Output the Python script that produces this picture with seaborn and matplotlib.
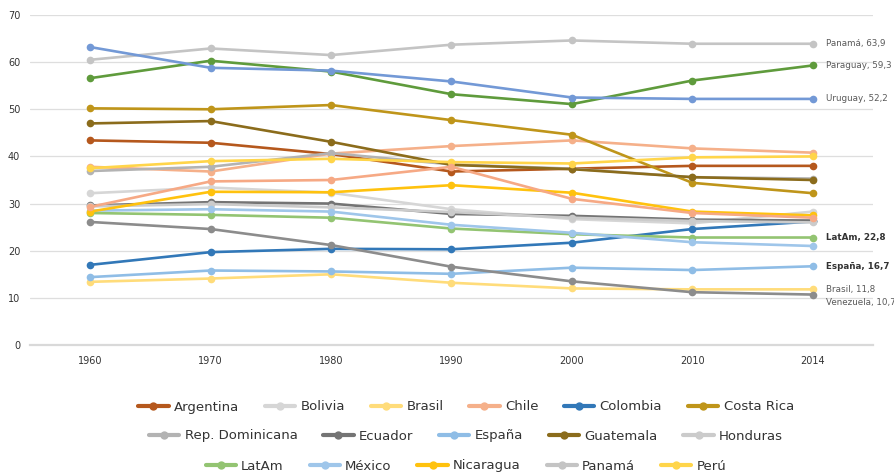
import matplotlib
matplotlib.use("Agg")
import matplotlib.pyplot as plt
from matplotlib.lines import Line2D
import seaborn as sns
import pandas as pd

years = ["1960", "1970", "1980", "1990", "2000", "2010", "2014"]

argentina = [43.4, 42.9, 40.5, 36.8, 37.4, 38.0, 38.0]
bolivia = [32.2, 33.4, 32.3, 28.8, 26.7, 25.8, 28.3]
brasil = [13.4, 14.1, 15.0, 13.2, 12.0, 11.8, 11.8]
chile = [37.8, 36.8, 40.6, 42.2, 43.4, 41.7, 40.8]
colombia = [17.0, 19.7, 20.4, 20.3, 21.7, 24.6, 26.2]
costa_rica = [50.2, 50.0, 50.9, 47.7, 44.6, 34.4, 32.2]
rep_dominicana = [36.9, 37.8, 40.7, 38.3, 37.4, 35.6, 35.3]
ecuador = [29.6, 30.3, 30.0, 27.8, 27.4, 26.6, 26.4]
espana = [14.4, 15.8, 15.6, 15.1, 16.4, 15.9, 16.7]
guatemala = [47.0, 47.5, 43.1, 38.2, 37.3, 35.6, 35.0]
honduras = [29.4, 29.9, 29.2, 28.2, 27.0, 26.3, 26.0]
latam = [28.0, 27.6, 27.0, 24.7, 23.5, 22.8, 22.8]
mexico = [28.5, 28.8, 28.3, 25.5, 23.8, 21.8, 21.0]
nicaragua = [28.3, 32.5, 32.4, 33.9, 32.3, 28.3, 27.5]
panama = [60.5, 62.9, 61.5, 63.7, 64.6, 63.9, 63.9]
peru = [37.5, 39.0, 39.5, 38.8, 38.5, 39.8, 40.0]
el_salvador = [29.3, 34.7, 35.0, 37.8, 31.0, 28.0, 27.0]
paraguay = [56.6, 60.3, 58.0, 53.2, 51.1, 56.1, 59.3]
uruguay = [63.2, 58.8, 58.2, 55.9, 52.5, 52.2, 52.2]
venezuela = [26.1, 24.6, 21.2, 16.6, 13.5, 11.2, 10.7]

series = {
    "Argentina": argentina, "Bolivia": bolivia, "Brasil": brasil, "Chile": chile,
    "Colombia": colombia, "Costa Rica": costa_rica, "Rep. Dominicana": rep_dominicana,
    "Ecuador": ecuador, "España": espana, "Guatemala": guatemala, "Honduras": honduras,
    "LatAm": latam, "México": mexico, "Nicaragua": nicaragua, "Panamá": panama,
    "Perú": peru, "El Salvador": el_salvador, "Paraguay": paraguay,
    "Uruguay": uruguay, "Venezuela": venezuela,
}

colors = {
    "Argentina": "#b5581d", "Bolivia": "#d6d6d6", "Brasil": "#ffdc7a", "Chile": "#f5b08a",
    "Colombia": "#3278b8", "Costa Rica": "#bf951a", "Rep. Dominicana": "#b3b3b3",
    "Ecuador": "#747474", "España": "#8fbde6", "Guatemala": "#8b6c1c", "Honduras": "#cbcbcb",
    "LatAm": "#93c472", "México": "#9fc6ea", "Nicaragua": "#ffc20e", "Panamá": "#c4c4c4",
    "Perú": "#ffd54a", "El Salvador": "#f6a985", "Paraguay": "#5f9b3c",
    "Uruguay": "#7399d6", "Venezuela": "#8c8c8c",
}

# labels at the right end: (name, y-offset in data units, bold)
end_labels = [
    ("Panamá", 0.0, False), ("Paraguay", 0.0, False), ("Uruguay", 0.0, False),
    ("LatAm", 0.0, True), ("España", 0.0, True), ("Brasil", 0.0, False),
    ("Venezuela", -1.6, False),
]

legend_rows = [
    ["Argentina", "Bolivia", "Brasil", "Chile", "Colombia", "Costa Rica"],
    ["Rep. Dominicana", "Ecuador", "España", "Guatemala", "Honduras"],
    ["LatAm", "México", "Nicaragua", "Panamá", "Perú"],
]

rows = []
for name, vals in series.items():
    for i, v in enumerate(vals):
        rows.append({"pais": name, "pos": i, "valor": v})
df = pd.DataFrame(rows)

sns.set_style("white")
plt.rcParams["font.family"] = ["DejaVu Sans"]

fig = plt.figure(figsize=(8.95, 4.74), dpi=100)
ax = fig.add_axes([30 / 895, 1 - 345 / 474, 843 / 895, 330 / 474])

sns.lineplot(data=df, x="pos", y="valor", hue="pais", palette=colors,
             marker="o", markersize=5.5, markeredgewidth=0, linewidth=1.9,
             legend=False, ax=ax, zorder=3)

ax.set_xlim(-0.5, 6.5)
ax.set_ylim(0, 70)
ax.set_yticks(range(0, 71, 10))
ax.set_xticks(range(len(years)))
ax.set_xticklabels(years)
ax.set_xlabel("")
ax.set_ylabel("")
ax.grid(axis="y", color="#dedede", linewidth=0.9)
ax.set_axisbelow(True)
for s in ["top", "right", "left"]:
    ax.spines[s].set_visible(False)
ax.spines["bottom"].set_color("#d9d9d9")
ax.spines["bottom"].set_linewidth(1.6)
ax.tick_params(axis="both", length=0, labelsize=7, labelcolor="#333333")
ax.tick_params(axis="y", pad=7)
ax.tick_params(axis="x", pad=8)

for name, dy, bold in end_labels:
    v = series[name][-1]
    txt = f"{name}, {v:.1f}".replace(".", ",")
    ax.text(6.11, v + dy, txt, fontsize=6.3, va="center", ha="left",
            color="#333333" if bold else "#595959",
            fontweight="bold" if bold else "normal", clip_on=False)

row_y = [1 - 407 / 474, 1 - 436 / 474, 1 - 466 / 474]
for names, y in zip(legend_rows, row_y):
    handles = [Line2D([0], [0], color=colors[n], marker="o", markersize=6,
                      markeredgewidth=0, linewidth=3) for n in names]
    leg = fig.legend(handles, names, loc="center", bbox_to_anchor=(466 / 895, y),
                     ncol=len(names), frameon=False, fontsize=9.5, handlelength=2.3,
                     handletextpad=0.4, columnspacing=1.95, borderaxespad=0,
                     borderpad=0)
    for t in leg.get_texts():
        t.set_color("#333333")

fig.savefig("out.png", dpi=100)
